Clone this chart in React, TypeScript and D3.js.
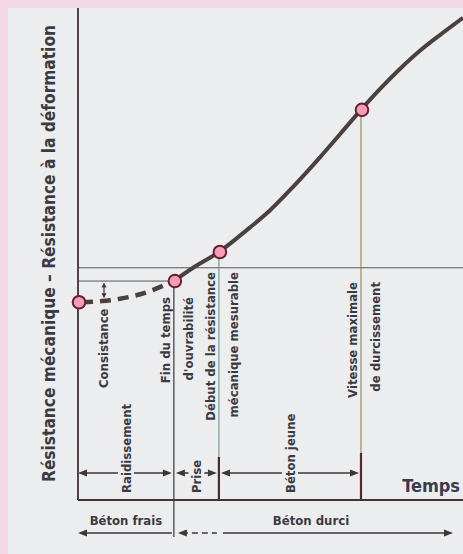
import React from 'react';
import * as d3 from 'd3';

// curve: time (0..10) vs resistance (0..10)
const TIME = [0, 0.57, 1.09, 1.74, 2.49, 2.99, 3.66, 4.39, 4.99, 5.58, 6.29, 6.81, 7.35, 7.84, 8.36, 8.88, 9.4, 10];
const RESIST = [4.02, 4.04, 4.09, 4.21, 4.45, 4.72, 5.04, 5.49, 5.89, 6.36, 6.97, 7.44, 7.93, 8.35, 8.76, 9.13, 9.45, 9.8];
const DASH_END = 4; // index where the dashed part stops (fin du temps d'ouvrabilité)
const MARKER_IDX = [0, 4, 6, 12];

const LEVEL_FULL = 4.72;
const LEVEL_CONS = 4.45;

const MILESTONE_T = [2.49, 3.66, 7.35];
const MILESTONE_LABELS = [
  ['Fin du temps', "d'ouvrabilité"],
  ['Début de la résistance', 'mécanique mesurable'],
  ['Vitesse maximale', 'de durcissement'],
];
const PHASE_BOUNDS = [0, 2.49, 3.66, 7.35];
const PHASES = ['Raidissement', 'Prise', 'Béton jeune'];
const STATES = ['Béton frais', 'Béton durci'];

const W = 463;
const H = 554;
const FONT = "'Liberation Sans Narrow', 'Arial Narrow', 'DejaVu Sans Condensed', sans-serif";
const INK = '#3b3a42';
const LINE = '#3f3535';
const FS = 13;

const x = d3.scaleLinear().domain([0, 10]).range([78, 463]);
const y = d3.scaleLinear().domain([0, 10]).range([500, 8]);

const pts: [number, number][] = TIME.map((t, i) => [t, RESIST[i]]);
const line = d3.line<[number, number]>()
  .x(d => x(d[0]))
  .y(d => y(d[1]))
  .curve(d3.curveCatmullRom.alpha(0.5));

const arrowHead = (px: number, py: number, dir: number, len = 9, hw = 3.5) =>
  `M${px},${py} L${px - dir * len},${py - hw} L${px - dir * len},${py + hw} Z`;

const vArrowHead = (px: number, py: number, dir: number, len = 5, hw = 2.5) =>
  `M${px},${py} L${px - hw},${py - dir * len} L${px + hw},${py - dir * len} Z`;

const App: React.FC = () => {
  const axisY = y(0);
  const arrowRow = 473;
  const stateRow = 533;
  const labelTops = [297, 272, 282];

  const phaseArrows = PHASES.map((p, i) => {
    const a = x(PHASE_BOUNDS[i]);
    const b = x(PHASE_BOUNDS[i + 1]);
    const mid = (a + b) / 2;
    const gap = 8;
    const a2 = a + (i === 0 ? 0 : 2);
    const b2 = b - 2;
    return (
      <g key={p}>
        <line x1={a2 + 4} x2={mid - gap} y1={arrowRow} y2={arrowRow} stroke={LINE} strokeWidth={1.6} />
        <line x1={mid + gap} x2={b2 - 4} y1={arrowRow} y2={arrowRow} stroke={LINE} strokeWidth={1.6} />
        <path d={arrowHead(a2, arrowRow, -1)} fill={LINE} />
        <path d={arrowHead(b2, arrowRow, 1)} fill={LINE} />
        <text
          transform={`translate(${mid + 5},493) rotate(-90)`}
          fontFamily={FONT} fontWeight="bold" fontSize={FS} fill={INK}
        >{p}</text>
      </g>
    );
  });

  return (
    <svg width={W} height={H} style={{ position: 'absolute', left: 0, top: 0 }}>
      <rect width={W} height={H} fill="#f3d7e6" />
      <rect x={8} y={8} width={W - 8} height={H - 8} fill="#ecedee" />

      {/* reference levels */}
      <line x1={x(0)} x2={x(10)} y1={y(LEVEL_FULL)} y2={y(LEVEL_FULL)} stroke="#555" strokeWidth={1} />
      <line x1={x(0)} x2={x(MILESTONE_T[0])} y1={y(LEVEL_CONS)} y2={y(LEVEL_CONS)} stroke="#555" strokeWidth={1} />

      {/* milestone verticals */}
      <line x1={x(MILESTONE_T[0])} x2={x(MILESTONE_T[0])} y1={y(RESIST[MARKER_IDX[1]])} y2={stateRow + 4} stroke={LINE} strokeWidth={1.2} />
      <line x1={x(MILESTONE_T[1])} x2={x(MILESTONE_T[1])} y1={y(RESIST[MARKER_IDX[2]])} y2={axisY} stroke="#5f8c86" strokeWidth={1} />
      <line x1={x(MILESTONE_T[2])} x2={x(MILESTONE_T[2])} y1={y(RESIST[MARKER_IDX[3]])} y2={axisY} stroke="#8c7c48" strokeWidth={1} />
      <line x1={x(MILESTONE_T[1])} x2={x(MILESTONE_T[1])} y1={457} y2={axisY} stroke="#4a2a2a" strokeWidth={2.2} />
      <line x1={x(MILESTONE_T[2])} x2={x(MILESTONE_T[2])} y1={453} y2={axisY} stroke="#5a2430" strokeWidth={2.2} />

      {/* axes */}
      <line x1={x(0)} x2={x(0)} y1={8} y2={axisY} stroke={LINE} strokeWidth={1.8} />
      <line x1={x(0)} x2={x(10)} y1={axisY} y2={axisY} stroke={LINE} strokeWidth={1.8} />

      {/* curve */}
      <path d={line(pts.slice(0, DASH_END + 1)) || ''} fill="none" stroke="#4a403c" strokeWidth={4.5} strokeDasharray="11,7" strokeDashoffset={-4} />
      <path d={line(pts.slice(DASH_END)) || ''} fill="none" stroke="#4a403c" strokeWidth={4} />

      {/* consistance arrow */}
      <line x1={104} x2={104} y1={y(LEVEL_CONS) + 5} y2={y(RESIST[0]) - 8} stroke={LINE} strokeWidth={1.2} />
      <path d={vArrowHead(104, y(LEVEL_CONS) + 1.5, -1)} fill={LINE} />
      <path d={vArrowHead(104, y(RESIST[0]) - 4, 1)} fill={LINE} />
      <text transform="translate(108,388) rotate(-90)" fontFamily={FONT} fontWeight="bold" fontSize={FS} fill={INK}>Consistance</text>

      {MARKER_IDX.map(i => (
        <circle key={i} cx={x(TIME[i]) + 1} cy={y(RESIST[i])} r={6.3} fill="#f59cb6" stroke="#6a1f30" strokeWidth={2} />
      ))}

      {MILESTONE_LABELS.map((lines, i) => {
        const mx = x(MILESTONE_T[i]);
        return lines.map((l, j) => (
          <text key={l}
            transform={`translate(${mx + (j === 0 ? -4 : 19)},${labelTops[i]}) rotate(-90)`}
            textAnchor="end" fontFamily={FONT} fontWeight="bold" fontSize={FS} fill={INK}
          >{l}</text>
        ));
      })}

      {phaseArrows}

      <text x={460} y={492} textAnchor="end" fontFamily={FONT} fontWeight="bold" fontSize={18} fill="#3a3a4c">Temps</text>

      {/* state row */}
      <text x={(x(0) + x(MILESTONE_T[0])) / 2} y={525} textAnchor="middle" fontFamily={FONT} fontWeight="bold" fontSize={FS} fill={INK}>{STATES[0]}</text>
      <text x={311} y={525} textAnchor="middle" fontFamily={FONT} fontWeight="bold" fontSize={FS} fill={INK}>{STATES[1]}</text>
      <line x1={x(0) + 6} x2={x(MILESTONE_T[0]) - 2} y1={stateRow} y2={stateRow} stroke={LINE} strokeWidth={1.6} />
      <path d={arrowHead(x(0), stateRow, -1)} fill={LINE} />
      <line x1={x(MILESTONE_T[0]) + 8} x2={x(MILESTONE_T[1]) - 2} y1={stateRow} y2={stateRow} stroke={LINE} strokeWidth={1.6} strokeDasharray="6,4" />
      <path d={arrowHead(x(MILESTONE_T[0]) + 4, stateRow, -1)} fill={LINE} />
      <line x1={x(MILESTONE_T[1]) + 4} x2={446} y1={stateRow} y2={stateRow} stroke={LINE} strokeWidth={1.6} />
      <path d={arrowHead(453, stateRow, 1)} fill={LINE} />

      {/* y title */}
      <text
        transform="translate(55,253.5) rotate(-90)"
        textAnchor="middle" fontFamily={FONT} fontWeight="bold" fontSize={17} fill={INK}
        textLength={457} lengthAdjust="spacingAndGlyphs"
      >Résistance mécanique – Résistance à la déformation</text>
    </svg>
  );
};

export default App;
